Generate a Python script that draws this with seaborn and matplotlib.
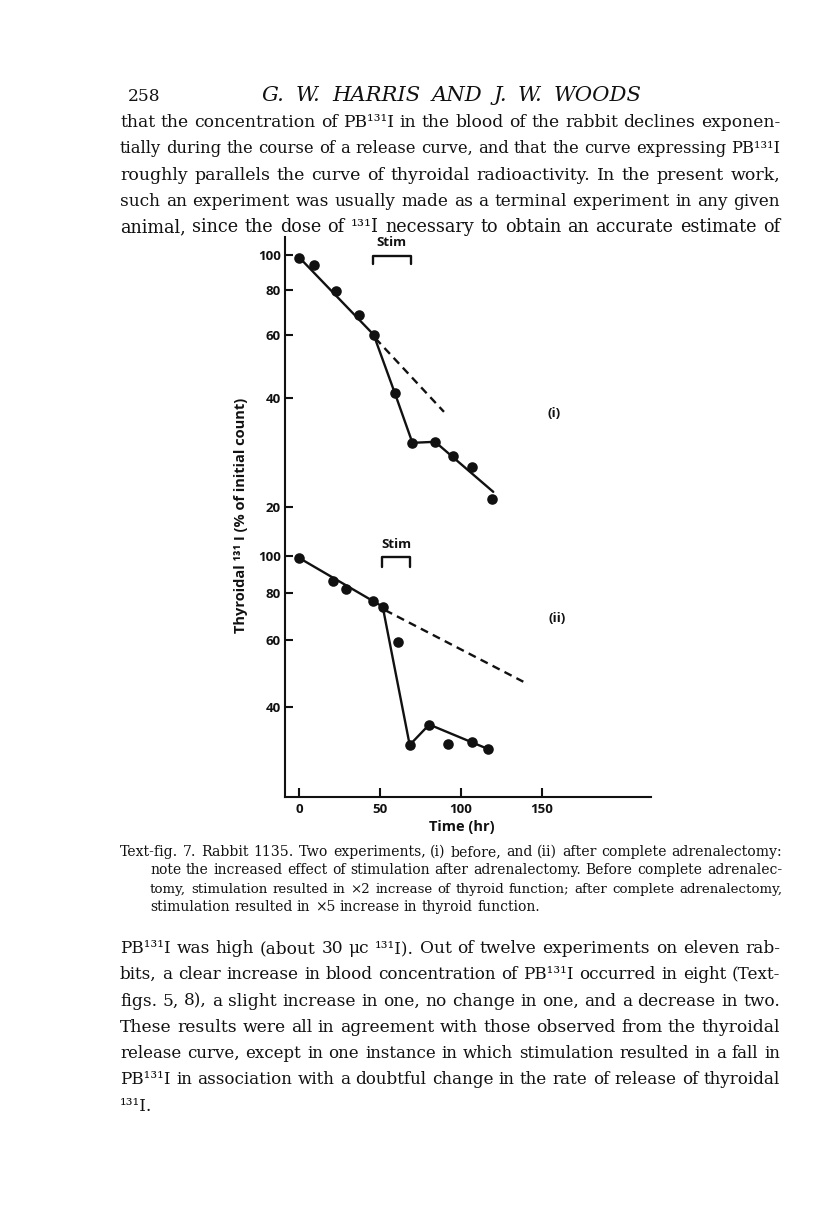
import matplotlib
matplotlib.use("Agg")
import matplotlib.pyplot as plt
import numpy as np
import pandas as pd
import seaborn as sns
from matplotlib.ticker import NullLocator

sns.set_style("white")
plt.rcParams['font.family'] = ['Open Sans', 'DejaVu Sans']

INK = '#111111'
W, H = 816, 1221

# Experiment (i): before adrenalectomy
time_i = [0, 9, 23, 37, 46, 59, 70, 84, 95, 107, 119]
count_i = [98.3, 93.9, 79.6, 68.0, 60.1, 41.5, 30.1, 30.3, 27.7, 25.8, 21.0]
fit_time_i = [0, 46, 59, 70, 84, 120]
fit_count_i = [98.5, 60.1, 41.5, 30.1, 30.3, 22.0]
expected_time_i = [47, 89.5]
expected_count_i = [58.8, 36.7]
stim_i = [45.3, 69.1]

# Experiment (ii): after complete adrenalectomy
time_ii = [0, 21, 29, 45.4, 51.6, 61, 68.3, 80.4, 92.2, 106.7, 117]
count_ii = [99, 86.1, 82.0, 76.2, 73.6, 59.5, 31.7, 35.9, 31.8, 32.3, 30.9]
fit_time_ii = [0, 51.6, 68.3, 80.4, 117]
fit_count_ii = [99, 73.6, 31.7, 35.9, 30.9]
expected_time_ii = [53, 138.6]
expected_count_ii = [72.1, 46.6]
stim_ii = [51.4, 68.3]

ticks_i = [20, 40, 60, 80, 100]
ticks_ii = [40, 60, 80, 100]
time_ticks = [0, 50, 100, 150]

body_top = [
    "that the concentration of PB¹³¹I in the blood of the rabbit declines exponen-",
    "tially during the course of a release curve, and that the curve expressing PB¹³¹I",
    "roughly parallels the curve of thyroidal radioactivity.  In the present work,",
    "such an experiment was usually made as a terminal experiment in any given",
    "animal, since the dose of ¹³¹I necessary to obtain an accurate estimate of",
]
caption = [
    "Text-fig. 7.  Rabbit 1135. Two experiments, (i) before, and (ii) after complete adrenalectomy:",
    "note the increased effect of stimulation after adrenalectomy.  Before complete adrenalec-",
    "tomy, stimulation resulted in  ×2 increase of thyroid function; after complete adrenalectomy,",
    "stimulation resulted in  ×5 increase in thyroid function.",
]
body_bottom = [
    "PB¹³¹I was high (about 30 μc ¹³¹I).  Out of twelve experiments on eleven rab-",
    "bits, a clear increase in blood concentration of PB¹³¹I occurred in eight (Text-",
    "figs. 5, 8), a slight increase in one, no change in one, and a decrease in two.",
    "These results were all in agreement with those observed from the thyroidal",
    "release curve, except in one instance in which stimulation resulted in a fall in",
    "PB¹³¹I in association with a doubtful change in the rate of release of thyroidal",
    "¹³¹I.",
]

fig = plt.figure(figsize=(W / 100, H / 100), dpi=100)
ax = fig.add_axes([285 / W, 1 - 797 / H, (651 - 285) / W, (797 - 237) / H])
ax2 = ax.twinx()
for a in (ax, ax2):
    a.set_yscale('log')
ax.set_xlim(-8.85, 217.6)
ax.set_ylim(3.124, 112.3)
ax2.set_ylim(23.09, 699.8)

df_i = pd.DataFrame({'time': time_i, 'count': count_i})
df_ii = pd.DataFrame({'time': time_ii, 'count': count_ii})
dash = (0, (3.4, 2.3))

sns.lineplot(x=fit_time_i, y=fit_count_i, ax=ax, color=INK, lw=1.7, sort=False)
sns.lineplot(x=expected_time_i, y=expected_count_i, ax=ax, color=INK, lw=1.7, linestyle=dash)
sns.scatterplot(data=df_i, x='time', y='count', ax=ax, color=INK, s=58, linewidth=0, zorder=3)

sns.lineplot(x=fit_time_ii, y=fit_count_ii, ax=ax2, color=INK, lw=1.7, sort=False)
sns.lineplot(x=expected_time_ii, y=expected_count_ii, ax=ax2, color=INK, lw=1.7, linestyle=dash)
sns.scatterplot(data=df_ii, x='time', y='count', ax=ax2, color=INK, s=58, linewidth=0, zorder=3)

# stimulation brackets
ax.plot([stim_i[0], stim_i[0], stim_i[1], stim_i[1]], [94.3, 99.4, 99.4, 94.3], color=INK, lw=1.7)
ax.text(sum(stim_i) / 2, 108.5, 'Stim', ha='center', va='center', fontsize=9.5, fontweight='bold', color=INK)
ax2.plot([stim_ii[0], stim_ii[0], stim_ii[1], stim_ii[1]], [93.6, 99.5, 99.5, 93.6], color=INK, lw=1.7)
ax2.text(sum(stim_ii) / 2, 107.8, 'Stim', ha='center', va='center', fontsize=9.5, fontweight='bold', color=INK)

ax.text(157.6, 36.4, '(i)', ha='center', va='center', fontsize=9.5, fontweight='bold', color=INK)
ax2.text(159.5, 68.3, '(ii)', ha='center', va='center', fontsize=9.5, fontweight='bold', color=INK)

# axes styling
for a in (ax, ax2):
    a.yaxis.set_minor_locator(NullLocator())
    for s in a.spines.values():
        s.set_visible(False)
for s in ('left', 'bottom'):
    ax.spines[s].set_visible(True)
    ax.spines[s].set_linewidth(1.5)
    ax.spines[s].set_color(INK)

ax.set_xticks(time_ticks)
ax.set_xticklabels([str(t) for t in time_ticks], fontsize=9.5, fontweight='bold', color=INK)
ax.set_yticks(ticks_i)
ax.set_yticklabels([str(t) for t in ticks_i], fontsize=9.5, fontweight='bold', color=INK)
ax2.set_yticks(ticks_ii)
ax2.set_yticklabels([str(t) for t in ticks_ii], fontsize=9.5, fontweight='bold', color=INK)
ax2.yaxis.set_ticks_position('left')
ax.tick_params(axis='x', direction='in', length=6.5, width=1.5, pad=4, color=INK, bottom=True)
ax.tick_params(axis='y', direction='in', length=6, width=1.5, pad=3, color=INK, left=True)
ax2.tick_params(axis='y', direction='in', length=6, width=1.5, pad=3, color=INK,
                left=True, right=False, labelleft=True, labelright=False)

ax.set_xlabel('Time (hr)', fontsize=10.5, fontweight='bold', color=INK)
ax.xaxis.set_label_coords((461.7 - 285) / 366, -(820 - 797) / 560)
ax.set_ylabel('Thyroidal ¹³¹ I (% of initial count)', fontsize=10.5, fontweight='bold', color=INK)
ax.yaxis.set_label_coords(-(285 - 248) / 366, (797 - 515) / 560)
ax2.set_ylabel('')
ax2.set_xlabel('')

# page text, justified word by word
renderer = fig.canvas.get_renderer()
SERIF = 'DejaVu Serif'


def width_of(s, size, style='normal'):
    t = fig.text(0, 0, s, fontsize=size, family=SERIF, style=style)
    w = t.get_window_extent(renderer).width
    t.remove()
    return w


def line_sizes(lines, targets, spread=0.035):
    raw = np.array([10 * tg / width_of(l, 10) for l, tg in zip(lines, targets)])
    base = np.median(raw)
    return np.clip(raw, base * (1 - spread), base * (1 + spread)), base


def put_line(s, y, x0, x1, size, justify=True, style='normal'):
    items = []
    for wd in s.split():
        t = fig.text(0, 0, wd, fontsize=size, family=SERIF, style=style, color=INK,
                     va='baseline', ha='left')
        items.append((t, t.get_window_extent(renderer).width))
    total = sum(w for _, w in items)
    if justify and len(items) > 1:
        gap = (x1 - x0 - total) / (len(items) - 1)
    else:
        gap = width_of('a a', size) - 2 * width_of('a', size)
    x = x0
    for t, w in items:
        t.set_position((x / W, 1 - y / H))
        x += w + gap


body_lines = body_top + body_bottom[:6]
sizes, body_size = line_sizes(body_lines, [660] * len(body_lines))
cap_sizes, cap_size = line_sizes(caption[:3], [662, 632, 632])

fig.text(128 / W, 1 - 101 / H, '258', fontsize=body_size, family=SERIF, color=INK, va='baseline')
title = 'G. W. HARRIS AND J. W. WOODS'
put_line(title, 101, 262, 642, 0.93 * 10 * 380 / width_of(title, 10, 'italic'), style='italic')

for i, line in enumerate(body_top):
    put_line(line, 127 + 26.3 * i, 120, 780, sizes[i])
for i, line in enumerate(caption):
    x0 = 120 if i == 0 else 150
    size = cap_sizes[i] if i < 3 else cap_size
    put_line(line, 856 + 18.3 * i, x0, 782, size, justify=(i < 3))
for i, line in enumerate(body_bottom):
    size = sizes[5 + i] if i < 6 else body_size
    put_line(line, 953 + 26.3 * i, 120, 780, size, justify=(i < 6))

fig.savefig('out.png', dpi=100, facecolor='white')
